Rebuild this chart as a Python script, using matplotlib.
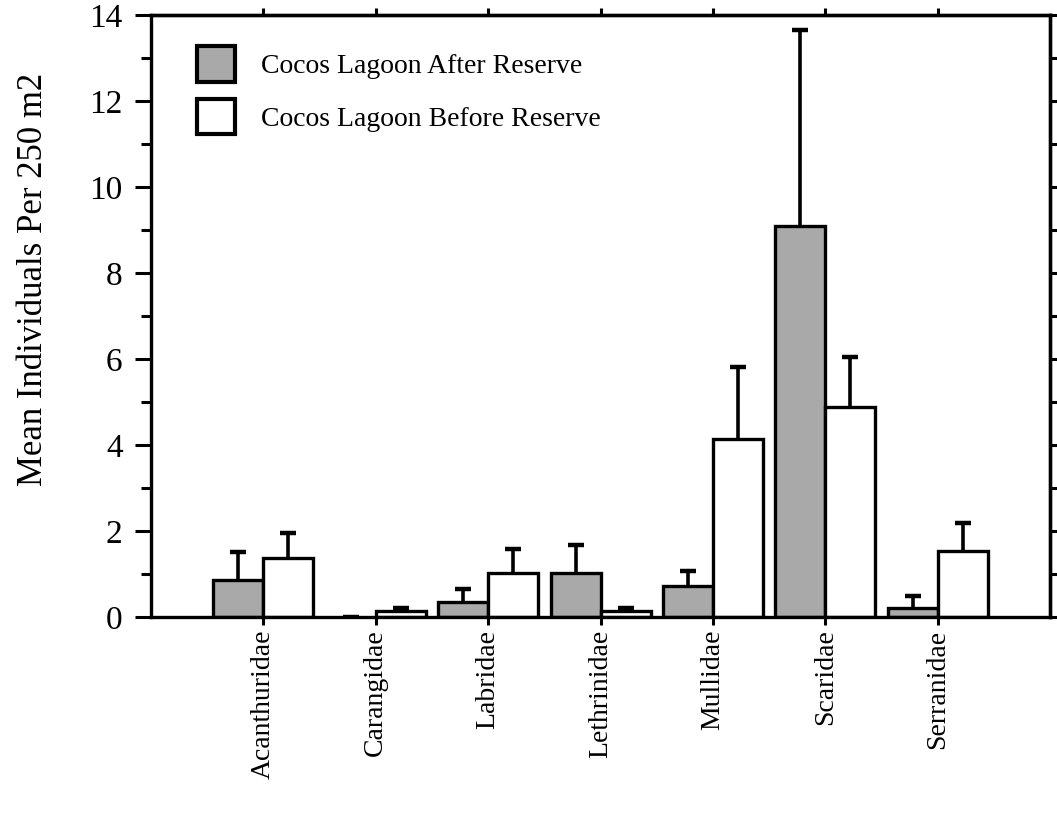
import matplotlib
matplotlib.use("Agg")
import matplotlib.pyplot as plt
import numpy as np
from matplotlib.ticker import MultipleLocator

categories = ["Acanthuridae", "Carangidae", "Labridae", "Lethrinidae",
              "Mullidae", "Scaridae", "Serranidae"]
after_mean = [0.87, 0.0, 0.35, 1.02, 0.72, 9.10, 0.21]
after_err = [0.64, 0.0, 0.30, 0.65, 0.35, 4.54, 0.28]
before_mean = [1.37, 0.14, 1.02, 0.14, 4.13, 4.88, 1.53]
before_err = [0.58, 0.07, 0.56, 0.07, 1.68, 1.17, 0.66]
labels = ["Cocos Lagoon After Reserve", "Cocos Lagoon Before Reserve"]

plt.rcParams['font.family'] = ['Liberation Serif', 'DejaVu Serif']

fig = plt.figure(figsize=(10.57, 8.32), dpi=100)
ax = fig.add_axes([0.1429, 0.2584, 0.8505, 0.7236])

x = np.arange(len(categories))
w = 0.445
lw = 2.4
b1 = ax.bar(x - w / 2, after_mean, w, color='#a9a9a9', edgecolor='black', linewidth=lw,
            label=labels[0], zorder=2)
ax.bar(x + w / 2, before_mean, w, color='white', edgecolor='black', linewidth=lw,
       label=labels[1], zorder=2)
for rect, v in zip(b1, after_mean):
    if v == 0:
        rect.set_visible(False)
for xs, m, e in ((x - w / 2, after_mean, after_err), (x + w / 2, before_mean, before_err)):
    cont = ax.errorbar(xs, m, yerr=[np.zeros(len(xs)), e], fmt='none', capsize=5.5,
                       elinewidth=2.6, capthick=3.2, ecolor='black', zorder=1)
    caps = cont.lines[1]
    if len(caps) == 2:
        caps[0].set_visible(False)

ax.set_xlim(-1, 7)
ax.set_ylim(0, 14)
ax.set_xticks(x)
ax.set_xticklabels(categories, rotation=90, fontsize=20)
ax.yaxis.set_major_locator(MultipleLocator(2))
ax.yaxis.set_minor_locator(MultipleLocator(1))
ax.tick_params(axis='y', which='major', direction='out', length=11.5, width=2.2,
               labelsize=24, pad=9)
ax.tick_params(axis='y', which='minor', direction='out', length=7, width=2.2)
ax.tick_params(axis='x', which='major', direction='out', length=6, width=2.2, pad=3)
for s in ax.spines.values():
    s.set_linewidth(2.4)

# right and top ticks
sec_r = ax.secondary_yaxis('right')
sec_r.yaxis.set_major_locator(MultipleLocator(1))
sec_r.tick_params(direction='out', length=5, width=2.2, labelright=False)
sec_r.spines['right'].set_linewidth(2.4)
sec_t = ax.secondary_xaxis('top')
sec_t.set_xticks(x)
sec_t.tick_params(direction='out', length=5, width=2.2, labeltop=False)
sec_t.spines['top'].set_linewidth(2.4)

ax.set_ylabel("Mean Individuals Per 250 m2", fontsize=25)
ax.yaxis.set_label_coords(-0.112, 0.56)

leg = ax.legend(loc='upper left', bbox_to_anchor=(0.0512, 0.948), frameon=False,
                borderaxespad=0, borderpad=0,
                fontsize=20, handlelength=1.36, handleheight=1.6,
                handletextpad=0.95, labelspacing=0.6)
for p in leg.get_patches():
    p.set_linewidth(3.0)

fig.savefig("out.png", dpi=100)
